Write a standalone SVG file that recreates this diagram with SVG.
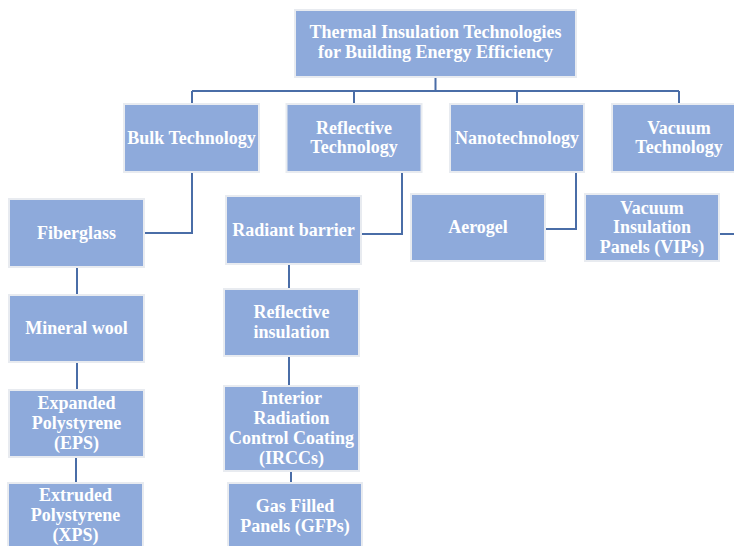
<svg xmlns="http://www.w3.org/2000/svg" width="734" height="546" viewBox="0 0 734 546">
<style>
.box{fill:#8EAADB;stroke:#E8EBF0;stroke-width:2}
.t{font-family:"Liberation Serif","Times New Roman",serif;font-weight:bold;font-size:18px;fill:#FFFFFF;text-anchor:middle}
.c{fill:none;stroke:#4A6DA7;stroke-width:2}
</style>
<rect width="734" height="546" fill="#FFFFFF"/>
<g id="connectors">
<path class="c" d="M435.5,77 V91 M192,91 H679 M192,91 V104 M354,91 V104 M517,91 V104 M679,91 V104"/>
<path class="c" d="M192,172 V233 H144"/>
<path class="c" d="M402,172 V234 H361"/>
<path class="c" d="M576,172 V229 H545"/>
<path class="c" d="M746,172 V234 H719"/>
<path class="c" d="M77,267 V295 M77,362 V390 M76,457 V483"/>
<path class="c" d="M289,264 V289 M289,356 V386 M291,471 V483"/>
</g>
<g id="root">
<rect class="box" x="295" y="10" width="281" height="67"/>
<text class="t" x="435.5" y="37.5">Thermal Insulation Technologies</text>
<text class="t" x="435.5" y="57.5">for Building Energy Efficiency</text>
</g>
<g id="bulk">
<rect class="box" x="124" y="104" width="135" height="68"/>
<text class="t" x="191.5" y="143.5">Bulk Technology</text>
</g>
<g id="reflective">
<rect class="box" x="286.5" y="104" width="135" height="68"/>
<text class="t" x="354" y="133.5">Reflective</text>
<text class="t" x="354" y="153">Technology</text>
</g>
<g id="nano">
<rect class="box" x="450" y="104" width="134" height="68"/>
<text class="t" x="517" y="143.5">Nanotechnology</text>
</g>
<g id="vacuum">
<rect class="box" x="612" y="104" width="135" height="68"/>
<text class="t" x="679" y="133.5">Vacuum</text>
<text class="t" x="679" y="153">Technology</text>
</g>
<g id="fiberglass">
<rect class="box" x="9" y="199" width="135" height="68"/>
<text class="t" x="76.5" y="238.5">Fiberglass</text>
</g>
<g id="mineral">
<rect class="box" x="9" y="295" width="135" height="67"/>
<text class="t" x="76.5" y="334">Mineral wool</text>
</g>
<g id="eps">
<rect class="box" x="9" y="390" width="135" height="67"/>
<text class="t" x="76.5" y="408.5">Expanded</text>
<text class="t" x="76.5" y="428.5">Polystyrene</text>
<text class="t" x="76.5" y="448.5">(EPS)</text>
</g>
<g id="xps">
<rect class="box" x="8" y="483" width="135" height="67"/>
<text class="t" x="75.5" y="501">Extruded</text>
<text class="t" x="75.5" y="521">Polystyrene</text>
<text class="t" x="75.5" y="541">(XPS)</text>
</g>
<g id="radiant">
<rect class="box" x="226" y="196" width="135" height="68"/>
<text class="t" x="293.5" y="235.5">Radiant barrier</text>
</g>
<g id="reflins">
<rect class="box" x="224" y="289" width="135" height="67"/>
<text class="t" x="291.5" y="318">Reflective</text>
<text class="t" x="291.5" y="338">insulation</text>
</g>
<g id="ircc">
<rect class="box" x="224" y="386" width="135" height="85"/>
<text class="t" x="291.5" y="403.5">Interior</text>
<text class="t" x="291.5" y="423.5">Radiation</text>
<text class="t" x="291.5" y="443.5">Control Coating</text>
<text class="t" x="291.5" y="463.5">(IRCCs)</text>
</g>
<g id="gfp">
<rect class="box" x="228" y="483" width="134" height="67"/>
<text class="t" x="295" y="512">Gas Filled</text>
<text class="t" x="295" y="532">Panels (GFPs)</text>
</g>
<g id="aerogel">
<rect class="box" x="411" y="194" width="134" height="67"/>
<text class="t" x="478" y="233">Aerogel</text>
</g>
<g id="vips">
<rect class="box" x="585" y="194" width="134" height="67"/>
<text class="t" x="652" y="213.5">Vacuum</text>
<text class="t" x="652" y="233">Insulation</text>
<text class="t" x="652" y="252.5">Panels (VIPs)</text>
</g>
</svg>
